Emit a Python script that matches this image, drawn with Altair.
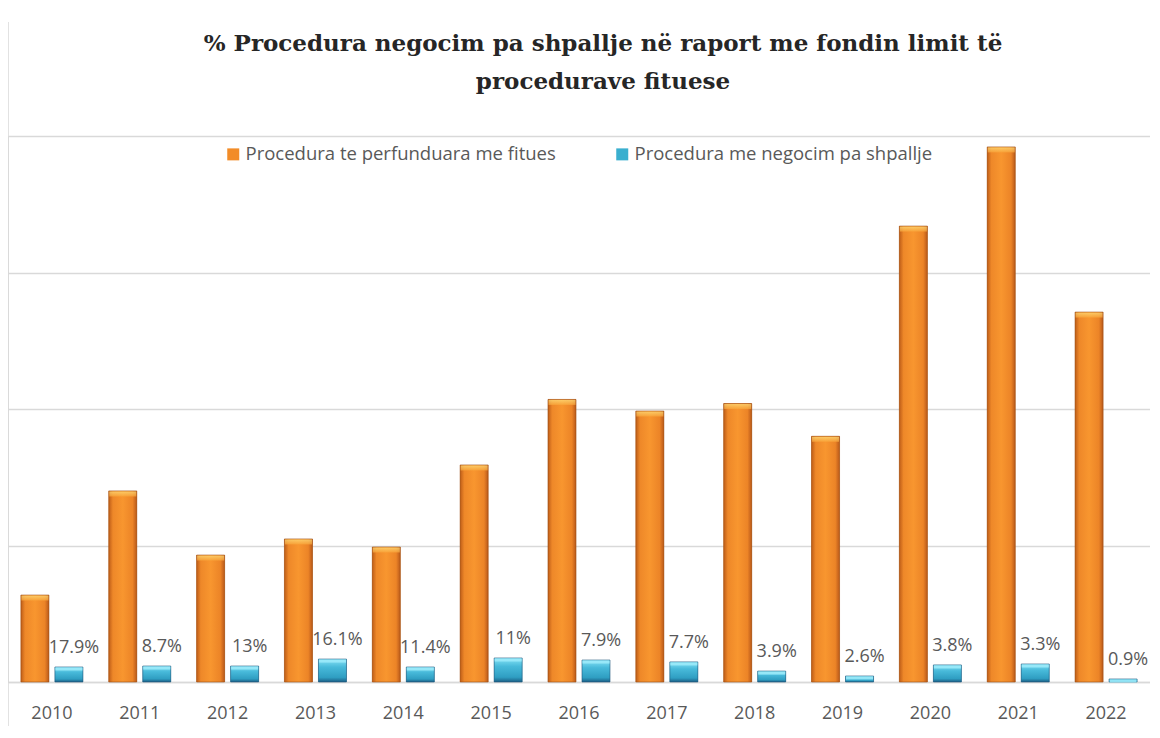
import altair as alt
import pandas as pd

years = ["2010", "2011", "2012", "2013", "2014", "2015", "2016",
         "2017", "2018", "2019", "2020", "2021", "2022"]
fitues = [63.7, 140, 93, 104.8, 98.9, 159, 207, 198.5, 204, 180, 334, 392, 271]
negocim = [11, 11.7, 11.7, 16.8, 11, 17.6, 16.1, 14.7, 8, 4.4, 12.5, 13.2, 2.2]
pct_labels = ["17.9%", "8.7%", "13%", "16.1%", "11.4%", "11%", "7.9%",
              "7.7%", "3.9%", "2.6%", "3.8%", "3.3%", "0.9%"]
series_names = ["Procedura te perfunduara me fitues", "Procedura me negocim pa shpallje"]

rows = []
for i, yr in enumerate(years):
    rows.append({"year": yr, "series": series_names[0], "value": fitues[i], "label": ""})
    rows.append({"year": yr, "series": series_names[1], "value": negocim[i], "label": pct_labels[i]})
df = pd.DataFrame(rows)

GRID = "#D9D9D9"
TXT = "#595959"

x = alt.X("year:N", sort=years,
          scale=alt.Scale(paddingInner=0.294, paddingOuter=0.147),
          axis=alt.Axis(title=None, labelAngle=0, ticks=False, grid=False,
                        domainColor=GRID, domainWidth=1.5,
                        labelFont="Open Sans", labelFontSize=18, labelColor=TXT,
                        labelPadding=22))
xo = alt.XOffset("series:N", sort=series_names,
                 scale=alt.Scale(domain=series_names, paddingInner=0.176, paddingOuter=0))
y = alt.Y("value:Q",
          scale=alt.Scale(domain=[0, 400], nice=False, zero=True),
          axis=alt.Axis(title=None, labels=False, ticks=False, domain=False,
                        values=[0, 100, 200, 300, 400],
                        gridColor=GRID, gridWidth=1.5))

base = alt.Chart(df)

legend_bars = base.mark_bar().encode(
    x=x, xOffset=xo, y=y,
    color=alt.Color("series:N", sort=series_names,
                    scale=alt.Scale(domain=series_names, range=["#F28C28", "#3AAFCF"]),
                    legend=alt.Legend(orient="none", legendX=216, legendY=9,
                                      direction="horizontal", title=None,
                                      symbolType="square", symbolSize=144,
                                      symbolStrokeWidth=0,
                                      labelFont="Open Sans", labelFontSize=18.5,
                                      labelColor=TXT, labelLimit=500,
                                      columnPadding=57, labelOffset=3)),
)

orange_grad = alt.Gradient(
    gradient="linear", x1=0, x2=1, y1=0, y2=0,
    stops=[alt.GradientStop(color="#BE5D18", offset=0),
           alt.GradientStop(color="#EE8829", offset=0.15),
           alt.GradientStop(color="#F8962F", offset=0.5),
           alt.GradientStop(color="#EC8427", offset=0.85),
           alt.GradientStop(color="#B9591A", offset=1)])
blue_grad = alt.Gradient(
    gradient="linear", x1=0, x2=0, y1=0, y2=1,
    stops=[alt.GradientStop(color="#86E2F5", offset=0),
           alt.GradientStop(color="#48BADA", offset=0.35),
           alt.GradientStop(color="#2F9EC2", offset=0.8),
           alt.GradientStop(color="#1B5F86", offset=1)])

orange_bars = base.transform_filter(alt.datum.series == series_names[0]).mark_bar(
    fill=orange_grad, stroke="#9C4E14", strokeWidth=0.6
).encode(x=x, xOffset=xo, y=y)

blue_bars = base.transform_filter(alt.datum.series == series_names[1]).mark_bar(
    fill=blue_grad, stroke="#1E5478", strokeWidth=0.6
).encode(x=x, xOffset=xo, y=y)

orange_top = base.transform_filter(alt.datum.series == series_names[0]).mark_tick(
    thickness=5, size=27, yOffset=3,
    color=alt.Gradient(gradient="linear", x1=0, x2=0, y1=0, y2=1,
                       stops=[alt.GradientStop(color="#FFE27E", offset=0),
                              alt.GradientStop(color="#F9A73C", offset=1)])
).encode(x=x, xOffset=xo, y=y)

blue_top = base.transform_filter(alt.datum.series == series_names[1]).mark_tick(
    thickness=3, size=27, yOffset=2, color="#9BEAF9", opacity=0.9
).encode(x=x, xOffset=xo, y=y)

labels = base.transform_filter(alt.datum.series == series_names[1]).mark_text(
    font="Open Sans", fontSize=18, color=TXT, dy=-19, dx=5, baseline="middle"
).encode(x=x, xOffset=xo, y=y, text="label:N")

frame_line = alt.Chart(alt.Data(values=[{}])).mark_rule(
    color=GRID, strokeWidth=1.5
).encode(x=alt.value(0), y=alt.value(-114), y2=alt.value(590))

chart = alt.layer(
    frame_line, legend_bars, orange_bars, blue_bars, orange_top, blue_top, labels
).properties(
    width=1142, height=546,
    autosize=alt.AutoSizeParams(type="none"),
    padding={"left": 0, "top": 128, "right": 0, "bottom": 44},
    title=alt.TitleParams(
        text=["% Procedura negocim pa shpallje në raport me fondin limit të",
              "procedurave fituese"],
        font="DejaVu Serif", fontSize=23, fontWeight="bold", color="#262626",
        anchor="middle", dx=24, dy=73, offset=0, lineHeight=38),
).configure_view(stroke=None).configure(background="white")

chart.save("out.html", embed_options={"renderer": "svg", "actions": False})
